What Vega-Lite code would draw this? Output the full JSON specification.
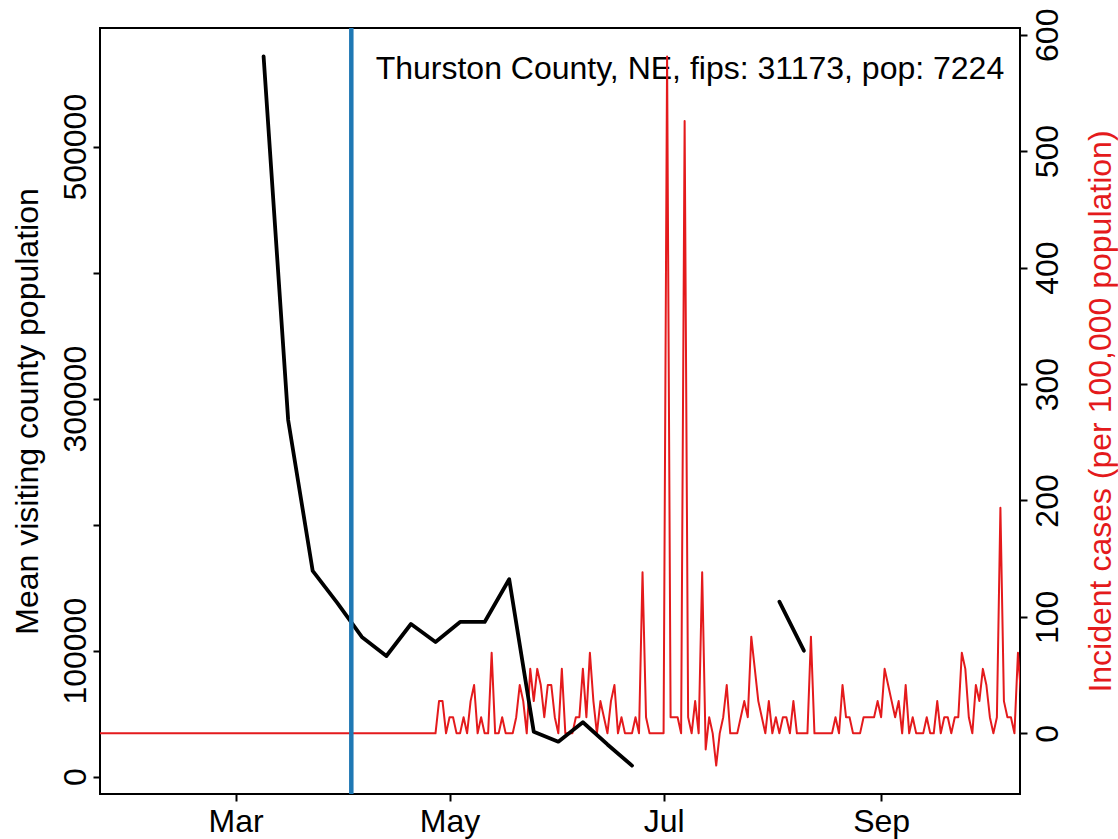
{
  "$schema": "https://vega.github.io/schema/vega-lite/v6.json",
  "width": 920,
  "height": 766,
  "autosize": {"type": "none"},
  "padding": {"left": 100, "top": 28, "right": 98, "bottom": 45},
  "background": "white",
  "config": {"view": {"stroke": "black", "strokeWidth": 2}, "font": "Liberation Sans"},
  "datasets": {
    "cases": [
      {"date":"2020-01-22","v":0},{"date":"2020-01-23","v":0},{"date":"2020-01-24","v":0},{"date":"2020-01-25","v":0},{"date":"2020-01-26","v":0},{"date":"2020-01-27","v":0},{"date":"2020-01-28","v":0},{"date":"2020-01-29","v":0},{"date":"2020-01-30","v":0},{"date":"2020-01-31","v":0},
      {"date":"2020-02-01","v":0},{"date":"2020-02-02","v":0},{"date":"2020-02-03","v":0},{"date":"2020-02-04","v":0},{"date":"2020-02-05","v":0},{"date":"2020-02-06","v":0},{"date":"2020-02-07","v":0},{"date":"2020-02-08","v":0},{"date":"2020-02-09","v":0},{"date":"2020-02-10","v":0},
      {"date":"2020-02-11","v":0},{"date":"2020-02-12","v":0},{"date":"2020-02-13","v":0},{"date":"2020-02-14","v":0},{"date":"2020-02-15","v":0},{"date":"2020-02-16","v":0},{"date":"2020-02-17","v":0},{"date":"2020-02-18","v":0},{"date":"2020-02-19","v":0},{"date":"2020-02-20","v":0},
      {"date":"2020-02-21","v":0},{"date":"2020-02-22","v":0},{"date":"2020-02-23","v":0},{"date":"2020-02-24","v":0},{"date":"2020-02-25","v":0},{"date":"2020-02-26","v":0},{"date":"2020-02-27","v":0},{"date":"2020-02-28","v":0},{"date":"2020-02-29","v":0},
      {"date":"2020-03-01","v":0},{"date":"2020-03-02","v":0},{"date":"2020-03-03","v":0},{"date":"2020-03-04","v":0},{"date":"2020-03-05","v":0},{"date":"2020-03-06","v":0},{"date":"2020-03-07","v":0},{"date":"2020-03-08","v":0},{"date":"2020-03-09","v":0},{"date":"2020-03-10","v":0},
      {"date":"2020-03-11","v":0},{"date":"2020-03-12","v":0},{"date":"2020-03-13","v":0},{"date":"2020-03-14","v":0},{"date":"2020-03-15","v":0},{"date":"2020-03-16","v":0},{"date":"2020-03-17","v":0},{"date":"2020-03-18","v":0},{"date":"2020-03-19","v":0},{"date":"2020-03-20","v":0},
      {"date":"2020-03-21","v":0},{"date":"2020-03-22","v":0},{"date":"2020-03-23","v":0},{"date":"2020-03-24","v":0},{"date":"2020-03-25","v":0},{"date":"2020-03-26","v":0},{"date":"2020-03-27","v":0},{"date":"2020-03-28","v":0},{"date":"2020-03-29","v":0},{"date":"2020-03-30","v":0},{"date":"2020-03-31","v":0},
      {"date":"2020-04-01","v":0},{"date":"2020-04-02","v":0},{"date":"2020-04-03","v":0},{"date":"2020-04-04","v":0},{"date":"2020-04-05","v":0},{"date":"2020-04-06","v":0},{"date":"2020-04-07","v":0},{"date":"2020-04-08","v":0},{"date":"2020-04-09","v":0},{"date":"2020-04-10","v":0},
      {"date":"2020-04-11","v":0},{"date":"2020-04-12","v":0},{"date":"2020-04-13","v":0},{"date":"2020-04-14","v":0},{"date":"2020-04-15","v":0},{"date":"2020-04-16","v":0},{"date":"2020-04-17","v":0},{"date":"2020-04-18","v":0},{"date":"2020-04-19","v":0},{"date":"2020-04-20","v":0},
      {"date":"2020-04-21","v":0},{"date":"2020-04-22","v":0},{"date":"2020-04-23","v":0},{"date":"2020-04-24","v":0},{"date":"2020-04-25","v":0},{"date":"2020-04-26","v":0},{"date":"2020-04-27","v":0},{"date":"2020-04-28","v":27.69},{"date":"2020-04-29","v":27.69},{"date":"2020-04-30","v":0},
      {"date":"2020-05-01","v":13.84},{"date":"2020-05-02","v":13.84},{"date":"2020-05-03","v":0},{"date":"2020-05-04","v":0},{"date":"2020-05-05","v":13.84},{"date":"2020-05-06","v":0},{"date":"2020-05-07","v":27.69},{"date":"2020-05-08","v":41.53},{"date":"2020-05-09","v":0},{"date":"2020-05-10","v":13.84},
      {"date":"2020-05-11","v":0},{"date":"2020-05-12","v":0},{"date":"2020-05-13","v":69.21},{"date":"2020-05-14","v":0},{"date":"2020-05-15","v":0},{"date":"2020-05-16","v":13.84},{"date":"2020-05-17","v":0},{"date":"2020-05-18","v":0},{"date":"2020-05-19","v":0},{"date":"2020-05-20","v":13.84},
      {"date":"2020-05-21","v":41.53},{"date":"2020-05-22","v":27.69},{"date":"2020-05-23","v":0},{"date":"2020-05-24","v":55.37},{"date":"2020-05-25","v":27.69},{"date":"2020-05-26","v":55.37},{"date":"2020-05-27","v":41.53},{"date":"2020-05-28","v":13.84},{"date":"2020-05-29","v":41.53},{"date":"2020-05-30","v":41.53},{"date":"2020-05-31","v":13.84},
      {"date":"2020-06-01","v":0},{"date":"2020-06-02","v":55.37},{"date":"2020-06-03","v":0},{"date":"2020-06-04","v":0},{"date":"2020-06-05","v":0},{"date":"2020-06-06","v":13.84},{"date":"2020-06-07","v":13.84},{"date":"2020-06-08","v":55.37},{"date":"2020-06-09","v":13.84},{"date":"2020-06-10","v":69.21},
      {"date":"2020-06-11","v":27.69},{"date":"2020-06-12","v":0},{"date":"2020-06-13","v":27.69},{"date":"2020-06-14","v":13.84},{"date":"2020-06-15","v":0},{"date":"2020-06-16","v":27.69},{"date":"2020-06-17","v":41.53},{"date":"2020-06-18","v":0},{"date":"2020-06-19","v":13.84},{"date":"2020-06-20","v":0},
      {"date":"2020-06-21","v":0},{"date":"2020-06-22","v":0},{"date":"2020-06-23","v":13.84},{"date":"2020-06-24","v":0},{"date":"2020-06-25","v":138.43},{"date":"2020-06-26","v":13.84},{"date":"2020-06-27","v":0},{"date":"2020-06-28","v":0},{"date":"2020-06-29","v":0},{"date":"2020-06-30","v":0},
      {"date":"2020-07-01","v":0},{"date":"2020-07-02","v":581.4},{"date":"2020-07-03","v":13.84},{"date":"2020-07-04","v":13.84},{"date":"2020-07-05","v":13.84},{"date":"2020-07-06","v":0},{"date":"2020-07-07","v":526.02},{"date":"2020-07-08","v":13.84},{"date":"2020-07-09","v":0},{"date":"2020-07-10","v":27.69},
      {"date":"2020-07-11","v":0},{"date":"2020-07-12","v":138.43},{"date":"2020-07-13","v":-13.84},{"date":"2020-07-14","v":13.84},{"date":"2020-07-15","v":0},{"date":"2020-07-16","v":-27.69},{"date":"2020-07-17","v":0},{"date":"2020-07-18","v":13.84},{"date":"2020-07-19","v":41.53},{"date":"2020-07-20","v":0},
      {"date":"2020-07-21","v":0},{"date":"2020-07-22","v":0},{"date":"2020-07-23","v":13.84},{"date":"2020-07-24","v":27.69},{"date":"2020-07-25","v":13.84},{"date":"2020-07-26","v":83.06},{"date":"2020-07-27","v":55.37},{"date":"2020-07-28","v":27.69},{"date":"2020-07-29","v":13.84},{"date":"2020-07-30","v":0},{"date":"2020-07-31","v":27.69},
      {"date":"2020-08-01","v":0},{"date":"2020-08-02","v":13.84},{"date":"2020-08-03","v":0},{"date":"2020-08-04","v":13.84},{"date":"2020-08-05","v":13.84},{"date":"2020-08-06","v":0},{"date":"2020-08-07","v":27.69},{"date":"2020-08-08","v":0},{"date":"2020-08-09","v":0},{"date":"2020-08-10","v":0},
      {"date":"2020-08-11","v":0},{"date":"2020-08-12","v":83.06},{"date":"2020-08-13","v":0},{"date":"2020-08-14","v":0},{"date":"2020-08-15","v":0},{"date":"2020-08-16","v":0},{"date":"2020-08-17","v":0},{"date":"2020-08-18","v":0},{"date":"2020-08-19","v":13.84},{"date":"2020-08-20","v":0},
      {"date":"2020-08-21","v":41.53},{"date":"2020-08-22","v":13.84},{"date":"2020-08-23","v":13.84},{"date":"2020-08-24","v":0},{"date":"2020-08-25","v":0},{"date":"2020-08-26","v":0},{"date":"2020-08-27","v":13.84},{"date":"2020-08-28","v":13.84},{"date":"2020-08-29","v":13.84},{"date":"2020-08-30","v":13.84},{"date":"2020-08-31","v":27.69},
      {"date":"2020-09-01","v":13.84},{"date":"2020-09-02","v":55.37},{"date":"2020-09-03","v":41.53},{"date":"2020-09-04","v":27.69},{"date":"2020-09-05","v":13.84},{"date":"2020-09-06","v":27.69},{"date":"2020-09-07","v":0},{"date":"2020-09-08","v":41.53},{"date":"2020-09-09","v":0},{"date":"2020-09-10","v":13.84},
      {"date":"2020-09-11","v":0},{"date":"2020-09-12","v":0},{"date":"2020-09-13","v":0},{"date":"2020-09-14","v":13.84},{"date":"2020-09-15","v":0},{"date":"2020-09-16","v":0},{"date":"2020-09-17","v":27.69},{"date":"2020-09-18","v":0},{"date":"2020-09-19","v":13.84},{"date":"2020-09-20","v":13.84},
      {"date":"2020-09-21","v":0},{"date":"2020-09-22","v":13.84},{"date":"2020-09-23","v":13.84},{"date":"2020-09-24","v":69.21},{"date":"2020-09-25","v":55.37},{"date":"2020-09-26","v":13.84},{"date":"2020-09-27","v":0},{"date":"2020-09-28","v":41.53},{"date":"2020-09-29","v":27.69},{"date":"2020-09-30","v":55.37},
      {"date":"2020-10-01","v":41.53},{"date":"2020-10-02","v":13.84},{"date":"2020-10-03","v":0},{"date":"2020-10-04","v":13.84},{"date":"2020-10-05","v":193.8},{"date":"2020-10-06","v":27.69},{"date":"2020-10-07","v":13.84},{"date":"2020-10-08","v":13.84},{"date":"2020-10-09","v":0},{"date":"2020-10-10","v":69.21},{"date":"2020-10-11","v":27.69}
    ],
    "mobility": [
      {"date":"2020-03-09","m":571700,"seg":1},
      {"date":"2020-03-16","m":283100,"seg":1},
      {"date":"2020-03-23","m":163300,"seg":1},
      {"date":"2020-03-30","m":137900,"seg":1},
      {"date":"2020-04-06","m":110900,"seg":1},
      {"date":"2020-04-13","m":95800,"seg":1},
      {"date":"2020-04-20","m":121200,"seg":1},
      {"date":"2020-04-27","m":106900,"seg":1},
      {"date":"2020-05-04","m":122800,"seg":1},
      {"date":"2020-05-11","m":122800,"seg":1},
      {"date":"2020-05-18","m":156700,"seg":1},
      {"date":"2020-05-25","m":35700,"seg":1},
      {"date":"2020-06-01","m":27800,"seg":1},
      {"date":"2020-06-08","m":43200,"seg":1},
      {"date":"2020-06-15","m":25600,"seg":1},
      {"date":"2020-06-22","m":8800,"seg":1},
      {"date":"2020-08-03","m":138900,"seg":2},
      {"date":"2020-08-10","m":100000,"seg":2}
    ],
    "event": [{"date":"2020-04-03"}],
    "note": [{"label":"Thurston County, NE, fips: 31173, pop: 7224"}]
  },
  "layer": [
    {
      "layer": [
        {
          "data": {"name": "note"},
          "mark": {"type": "text", "align": "right", "baseline": "alphabetic", "fontSize": 32, "font": "Liberation Sans", "color": "black"},
          "encoding": {
            "x": {"datum": {"year": 2020, "month": 10, "date": 6, "hours": 2, "utc": true}, "type": "temporal"},
            "y": {"datum": 562.4, "type": "quantitative"},
            "text": {"field": "label", "type": "nominal"}
          }
        },
        {
          "data": {"name": "cases"},
          "mark": {"type": "line", "color": "#E41A1C", "strokeWidth": 2, "strokeJoin": "round", "clip": true},
          "encoding": {
            "x": {
              "field": "date", "type": "temporal",
              "scale": {"type": "utc", "domain": [1579683600000, 1602338400000]},
              "axis": {
                "values": [{"year":2020,"month":3,"date":1,"utc":true},{"year":2020,"month":5,"date":1,"utc":true},{"year":2020,"month":7,"date":1,"utc":true},{"year":2020,"month":9,"date":1,"utc":true}],
                "labelExpr": "utcFormat(datum.value, '%b')", "title": null, "grid": false, "domain": false,
                "tickSize": 7, "tickWidth": 2, "tickColor": "black",
                "labelFontSize": 32, "labelColor": "black", "labelFont": "Liberation Sans",
                "labelBaseline": "alphabetic", "labelPadding": 30.5, "labelOverlap": false
              }
            },
            "y": {
              "field": "v", "type": "quantitative",
              "scale": {"domain": [-52.1, 605.8], "nice": false, "zero": false},
              "axis": {
                "orient": "right", "values": [0,100,200,300,400,500,600], "format": "d",
                "grid": false, "domain": false, "tickSize": 7, "tickWidth": 2, "tickColor": "black",
                "labelAngle": 270, "labelAlign": "center", "labelBaseline": "alphabetic", "labelPadding": 30.5,
                "labelFontSize": 32, "labelColor": "black", "labelFont": "Liberation Sans", "labelOverlap": false,
                "title": "Incident cases (per 100,000 population)", "titleColor": "#E41A1C", "titleFont": "Liberation Sans",
                "titleFontSize": 32, "titleFontWeight": "normal", "titleAngle": 270, "titleAlign": "center",
                "titleBaseline": "alphabetic", "titleX": 90, "titleY": 383
              }
            }
          }
        }
      ]
    },
    {
      "data": {"name": "mobility"},
      "mark": {"type": "line", "color": "black", "strokeWidth": 3.8, "strokeJoin": "round", "strokeCap": "round", "clip": true},
      "encoding": {
        "x": {"field": "date", "type": "temporal"},
        "detail": {"field": "seg", "type": "nominal"},
        "y": {
          "field": "m", "type": "quantitative",
          "scale": {"domain": [-13730, 594206], "nice": false, "zero": false},
          "axis": {
            "orient": "left", "values": [0,100000,200000,300000,400000,500000], "format": "d",
            "labelExpr": "datum.value == 200000 || datum.value == 400000 ? '' : datum.label",
            "grid": false, "domain": false, "tickSize": 7, "tickWidth": 2, "tickColor": "black",
            "labelAngle": 270, "labelAlign": "center", "labelBaseline": "alphabetic", "labelPadding": 7.5,
            "labelFontSize": 32, "labelColor": "black", "labelFont": "Liberation Sans", "labelOverlap": false,
            "title": "Mean visiting county population", "titleColor": "black", "titleFont": "Liberation Sans",
            "titleFontSize": 32, "titleFontWeight": "normal", "titleAngle": 270, "titleAlign": "center",
            "titleBaseline": "alphabetic", "titleX": -63, "titleY": 383
          }
        }
      }
    },
    {
      "data": {"name": "event"},
      "mark": {"type": "rule", "color": "#1F78B4", "strokeWidth": 4.5},
      "encoding": {"x": {"field": "date", "type": "temporal"}}
    }
  ],
  "resolve": {"scale": {"y": "independent"}}
}
